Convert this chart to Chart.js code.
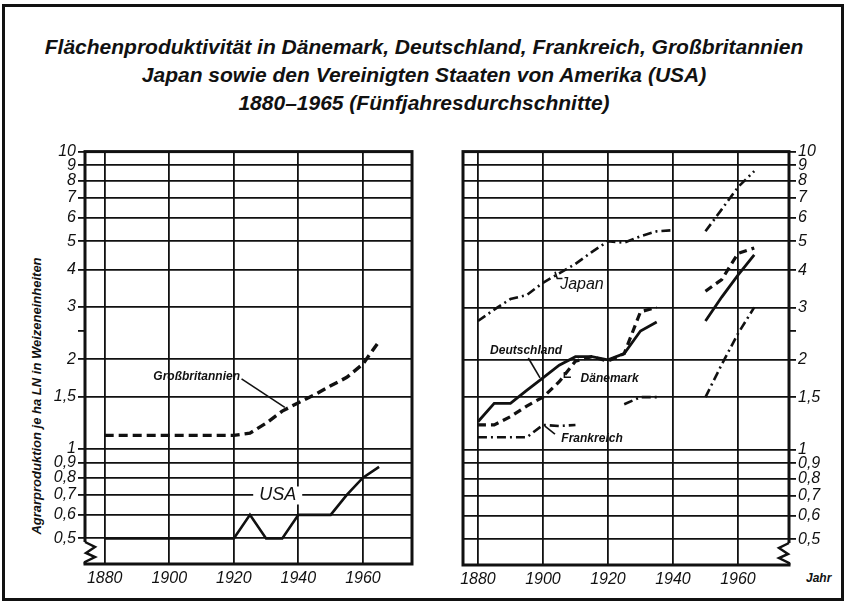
<!DOCTYPE html>
<html><head><meta charset="utf-8">
<script src="https://cdn.jsdelivr.net/npm/chart.js@4/dist/chart.umd.min.js"></script>
<style>
html,body{margin:0;padding:0;background:#fff;}
body{width:848px;height:604px;position:relative;overflow:hidden;font-family:"Liberation Sans",Arial,sans-serif;color:#111;}
#frame{position:absolute;left:2px;top:4px;width:836px;height:591px;border:3px solid #111;}
#title{position:absolute;left:0;top:33px;width:848px;text-align:center;font:italic bold 21px "Liberation Sans";line-height:28px;color:#111;}
#ylab{position:absolute;left:36px;top:396px;transform:translate(-50%,-50%) rotate(-90deg);font:italic bold 13px "Liberation Sans";white-space:nowrap;color:#111;}
#jahr{position:absolute;left:806px;top:571px;font:italic bold 12px "Liberation Sans";color:#111;}
canvas{position:absolute;}
</style></head>
<body>
<div id="frame"></div>
<div id="title">Flächenproduktivität in Dänemark, Deutschland, Frankreich, Großbritannien<br>Japan sowie den Vereinigten Staaten von Amerika (USA)<br>1880–1965 (Fünfjahresdurchschnitte)</div>
<div id="ylab">Agrarproduktion je ha LN in Weizeneinheiten</div>
<div id="jahr">Jahr</div>
<canvas id="c1" width="425" height="464" style="left:0;top:140px;"></canvas>
<canvas id="c2" width="408" height="464" style="left:440px;top:140px;"></canvas>
<script>
// ---- data ----
const years = [1880,1885,1890,1895,1900,1905,1910,1915,1920,1925,1930,1935,1940,1945,1950,1955,1960,1965];
const usa = [0.5,0.5,0.5,0.5,0.5,0.5,0.5,0.5,0.5,0.6,0.5,0.5,0.6,0.6,0.6,0.7,0.8,0.87];
const grossbritannien = [1.11,1.11,1.11,1.11,1.11,1.11,1.11,1.11,1.11,1.13,1.22,1.34,1.43,1.52,1.63,1.74,1.93,2.3];
const japan = [2.7,2.95,3.2,3.3,3.63,3.9,4.2,4.6,5.0,4.95,5.2,5.4,5.45,null,5.4,6.4,7.6,8.6];
const deutschland = [1.24,1.43,1.43,1.58,1.74,1.92,2.05,2.05,2.0,2.1,2.5,2.68,null,null,2.7,3.25,3.85,4.5];
const daenemark = [1.21,1.21,1.29,1.4,1.5,1.69,1.98,2.05,1.98,2.1,2.9,3.0,null,null,3.4,3.72,4.55,4.75];
const frankreich = [1.1,1.1,1.1,1.1,1.21,1.2,1.21,null,null,1.42,1.5,1.5,null,null,1.5,1.93,2.45,3.0];
const yTickValues = [0.5,0.6,0.7,0.8,0.9,1,1.5,2,2.5,3,4,5,6,7,8,9,10];
const yTickLabels = ['0,5','0,6','0,7','0,8','0,9','1','1,5','2','','3','4','5','6','7','8','9','10'];
const xTickValues = [1880,1900,1920,1940,1960];
const xTickLabels = ['1880','1900','1920','1940','1960'];

const INK = '#111';
const pts = vals => years.map((yr,i)=>({x:yr, y:vals[i]}));

function framePlugin(side){
  return {
    id:'frame'+side,
    beforeDatasetsDraw(chart){
      const {ctx, chartArea:a} = chart;
      ctx.save();
      ctx.strokeStyle = INK; ctx.lineWidth = 3;
      ctx.strokeRect(a.left, a.top, a.right-a.left, a.bottom-a.top);
      const xA = side==='left' ? a.left : a.right;
      const d = side==='left' ? 1 : -1;
      const y0 = a.bottom-22;
      ctx.fillStyle = '#fff';
      ctx.fillRect(xA-3, y0, 6, 20);
      ctx.beginPath();
      ctx.moveTo(xA, y0);
      ctx.lineTo(xA+d*10, y0+5);
      ctx.lineTo(xA+d*1, y0+11);
      ctx.lineTo(xA+d*10, y0+15);
      ctx.lineTo(xA, y0+20);
      ctx.lineTo(xA, a.bottom);
      ctx.lineWidth = 2.5;
      ctx.stroke();
      ctx.restore();
    }
  };
}
function labelPlugin(items){
  return {
    id:'seriesLabels',
    afterDatasetsDraw(chart){
      const {ctx, scales:{x,y}} = chart;
      items.forEach(it=>{
        ctx.save();
        if(it.leader){
          ctx.beginPath();
          it.leader.forEach((p,i)=>{
            const px=x.getPixelForValue(p[0]), py=y.getPixelForValue(p[1]);
            if(i) ctx.lineTo(px,py); else ctx.moveTo(px,py);
          });
          ctx.lineWidth=1.6; ctx.strokeStyle=INK; ctx.stroke();
        }
        ctx.font = it.font; ctx.textAlign='center'; ctx.textBaseline='middle';
        const px=x.getPixelForValue(it.x), py=y.getPixelForValue(it.y);
        if(it.bg){
          const w=ctx.measureText(it.text).width;
          ctx.fillStyle='#fff'; ctx.fillRect(px-w/2-6, py-9, w+12, 18);
        }
        ctx.fillStyle=INK; ctx.fillText(it.text, px, py);
        ctx.restore();
      });
    }
  };
}

const tickFont = {family:'"Liberation Sans"', size:16, style:'italic'};

function makeOptions(side, xmin, xmax, padding, yWidth, xHeight){
  return {
    responsive:false, animation:false, devicePixelRatio:1,
    layout:{padding},
    plugins:{legend:{display:false}, tooltip:{enabled:false}, title:{display:false}},
    elements:{point:{radius:0}, line:{tension:0, borderCapStyle:'butt', borderJoinStyle:'miter'}},
    scales:{
      x:{type:'linear', min:xmin, max:xmax,
         afterBuildTicks:s=>{ s.ticks = xTickValues.map(v=>({value:v})); },
         afterFit:s=>{ s.height = xHeight; },
         ticks:{autoSkip:false, maxRotation:0, padding:5, color:INK, font:tickFont,
                callback:(v)=>{ const i=xTickValues.indexOf(v); return i>=0?xTickLabels[i]:''; }},
         grid:{color:INK, lineWidth:1.8, drawTicks:false},
         border:{display:false}},
      y:{type:'logarithmic', position:side, min:0.41, max:10,
         afterBuildTicks:s=>{ s.ticks = yTickValues.map(v=>({value:v})); },
         afterFit:s=>{ s.width = yWidth; },
         ticks:{autoSkip:false, padding:2, color:INK, font:tickFont,
                callback:(v)=>{ const i=yTickValues.indexOf(v); return i>=0?yTickLabels[i]:''; }},
         grid:{color:c=> (c.tick && c.tick.value===2.5) ? 'rgba(0,0,0,0)' : INK,
               lineWidth:1.8, drawTicks:true, tickLength:7, tickColor:INK, tickWidth:1.8},
         border:{display:false}}
    }
  };
}

new Chart(document.getElementById('c1'), {
  type:'line',
  data:{datasets:[
    {label:'USA', data:pts(usa), borderColor:INK, borderWidth:2.6, fill:false},
    {label:'Großbritannien', data:pts(grossbritannien), borderColor:INK, borderWidth:3.4, borderDash:[9,5], fill:false}
  ]},
  options: makeOptions('left', 1873.9, 1975.2, {left:0, top:9, right:13, bottom:0}, 85, 40),
  plugins:[framePlugin('left'), labelPlugin([
    {text:'Großbritannien', x:1908.5, y:1.75, font:'italic bold 12px "Liberation Sans"', leader:[[1922.4,1.72],[1935.8,1.38]]},
    {text:'USA', x:1933.6, y:0.697, font:'italic 18px "Liberation Sans"', bg:true}
  ])]
});

new Chart(document.getElementById('c2'), {
  type:'line',
  data:{datasets:[
    {label:'Japan', data:pts(japan), borderColor:INK, borderWidth:2.6, borderDash:[9,4,2,4], fill:false},
    {label:'Deutschland', data:pts(deutschland), borderColor:INK, borderWidth:2.8, fill:false},
    {label:'Dänemark', data:pts(daenemark), borderColor:INK, borderWidth:3.2, borderDash:[8,5], fill:false},
    {label:'Frankreich', data:pts(frankreich), borderColor:INK, borderWidth:2.6, borderDash:[9,4,2,4], fill:false}
  ]},
  options: makeOptions('right', 1875.4, 1975.7, {left:23, top:9, right:0, bottom:0}, 59, 39),
  plugins:[framePlugin('right'), labelPlugin([
    {text:'Japan', x:1912, y:3.59, font:'italic 16px "Liberation Sans"', leader:[[1903.7,3.95],[1904.4,3.75],[1906,3.75]]},
    {text:'Deutschland', x:1894.8, y:2.14, font:'italic bold 12px "Liberation Sans"', leader:[[1895.5,2.03],[1899.1,1.74]]},
    {text:'Dänemark', x:1920.5, y:1.73, font:'italic bold 12px "Liberation Sans"', leader:[[1906.6,1.82],[1906.6,1.75],[1908.6,1.75]]},
    {text:'Frankreich', x:1915.1, y:1.09, font:'italic bold 12px "Liberation Sans"', leader:[[1900.6,1.2],[1903.7,1.127]]}
  ])]
});
</script>
</body></html>
